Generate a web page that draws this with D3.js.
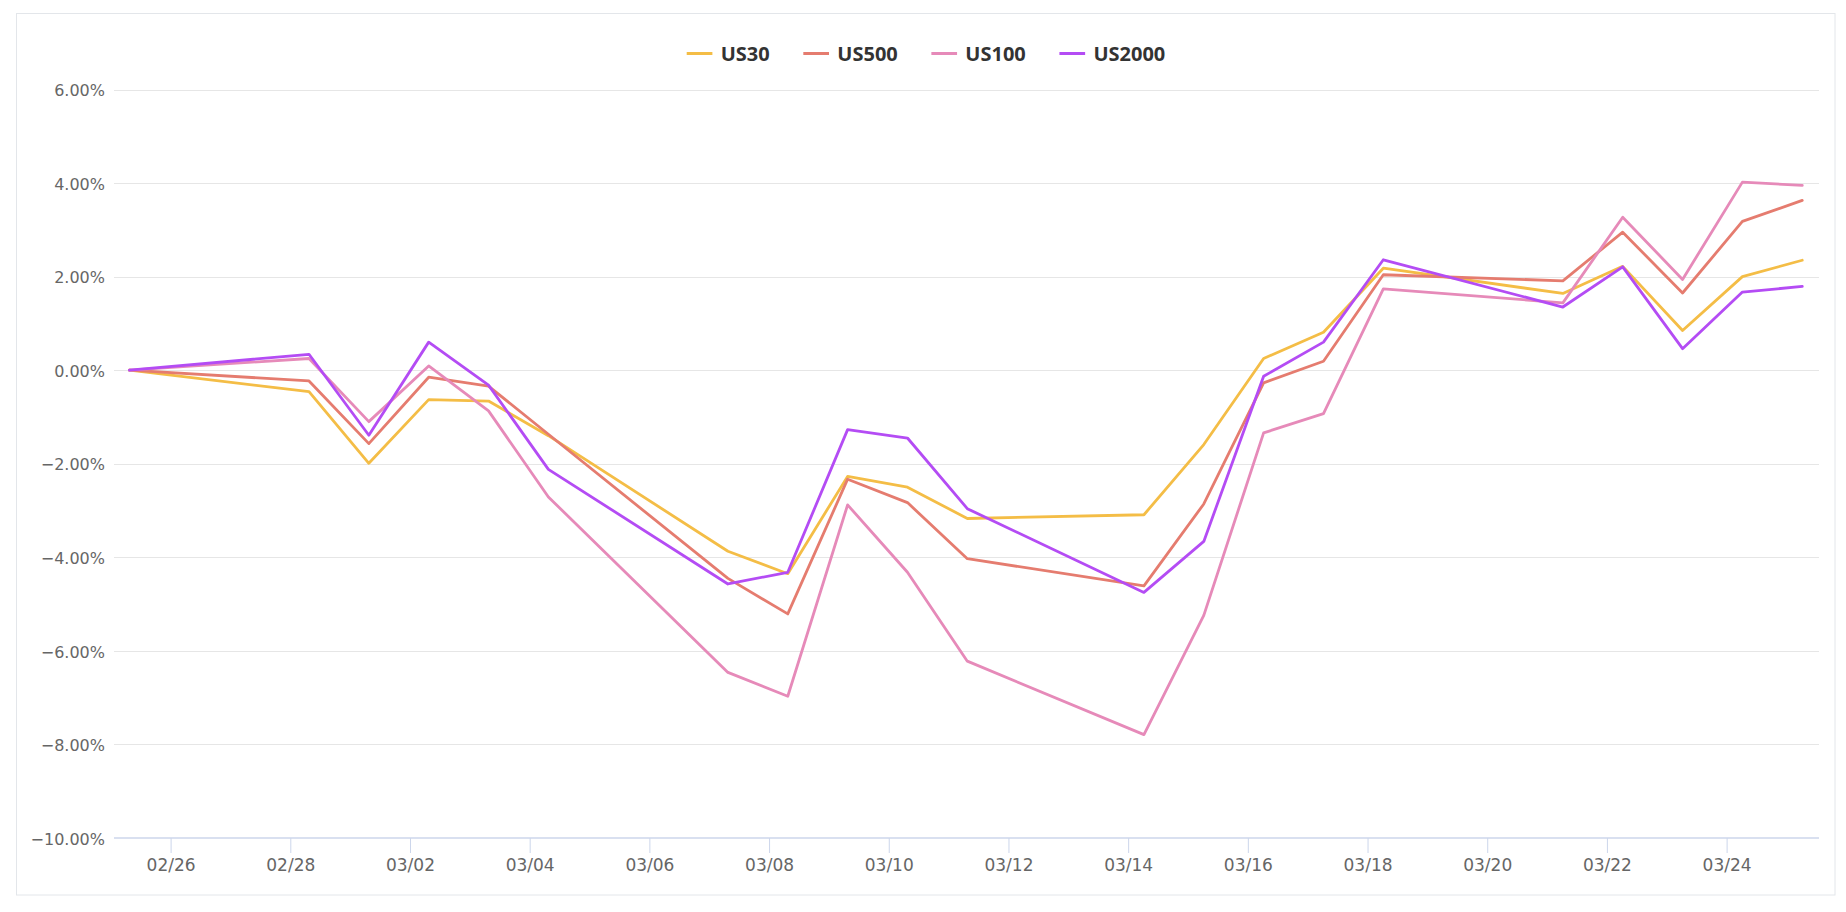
<!DOCTYPE html>
<html><head><meta charset="utf-8">
<script src="https://cdn.jsdelivr.net/npm/d3@7"></script>
<style>
body{margin:0;background:#fff;}
svg{display:block;font-family:"DejaVu Sans",Verdana,sans-serif;}
</style>
</head><body><svg id="chart" width="1846" height="912"></svg>
<script>
// ---- data ----
const dates = [
  "2022-02-25T07:30Z","2022-02-28T07:30Z","2022-03-01T07:30Z","2022-03-02T07:30Z","2022-03-03T07:30Z",
  "2022-03-04T07:30Z","2022-03-07T07:30Z","2022-03-08T07:30Z","2022-03-09T07:30Z","2022-03-10T07:30Z",
  "2022-03-11T07:30Z","2022-03-14T06:20Z","2022-03-15T06:20Z","2022-03-16T06:20Z","2022-03-17T06:20Z",
  "2022-03-18T06:20Z","2022-03-21T06:20Z","2022-03-22T06:20Z","2022-03-23T06:20Z","2022-03-24T06:20Z",
  "2022-03-25T06:20Z"
];
const seriesNames = ["US30","US500","US100","US2000"];
const us30   = [0,-0.46,-1.99,-0.63,-0.66,-1.40,-3.87,-4.35,-2.27,-2.50,-3.17,-3.09,-1.59,0.25,0.81,2.18,1.64,2.22,0.85,2.00,2.35];
const us500  = [0,-0.23,-1.57,-0.15,-0.34,-1.37,-4.45,-5.21,-2.33,-2.83,-4.03,-4.61,-2.86,-0.27,0.19,2.04,1.91,2.95,1.65,3.18,3.63];
const us100  = [0,0.25,-1.10,0.09,-0.87,-2.71,-6.46,-6.97,-2.88,-4.32,-6.22,-7.79,-5.24,-1.34,-0.93,1.74,1.44,3.27,1.94,4.02,3.95];
const us2000 = [0,0.34,-1.39,0.60,-0.32,-2.12,-4.57,-4.32,-1.27,-1.45,-2.96,-4.75,-3.66,-0.13,0.60,2.36,1.35,2.21,0.46,1.67,1.79];
const seriesColors = ["#f4bd46","#e57c6f","#e68ab9","#b44cf4"];
const yTicks = [-10,-8,-6,-4,-2,0,2,4,6];
const xTickDates = ["2022-02-26","2022-02-28","2022-03-02","2022-03-04","2022-03-06","2022-03-08","2022-03-10",
  "2022-03-12","2022-03-14","2022-03-16","2022-03-18","2022-03-20","2022-03-22","2022-03-24"];
const xDomain = ["2022-02-25T01:18Z","2022-03-25T13:03Z"];

// ---- layout ----
const svg = d3.select("#chart");
const plot = {left:114, right:1819, top:89.5, bottom:838};

svg.append("rect").attr("x",16.5).attr("y",13.5).attr("width",1818.5).attr("height",881.5)
  .attr("fill","#fff").attr("stroke","#e3e6ea").attr("stroke-width",1);

const x = d3.scaleUtc().domain(xDomain.map(d=>new Date(d))).range([plot.left, plot.right]);
const y = d3.scaleLinear().domain([-10,6]).range([plot.bottom, plot.top]);

// grid
svg.append("g").selectAll("line").data(yTicks.filter(t=>t>-10)).join("line")
  .attr("x1",plot.left).attr("x2",plot.right)
  .attr("y1",d=>Math.round(y(d))+0.5).attr("y2",d=>Math.round(y(d))+0.5)
  .attr("stroke","#e6e6e6").attr("stroke-width",1);

// y axis labels
const yAxis = d3.axisLeft(y).tickValues(yTicks).tickSize(0).tickPadding(0)
  .tickFormat(d => d3.format(".2f")(d) + "%");
const gy = svg.append("g").attr("transform",`translate(105,1)`).call(yAxis);
gy.select(".domain").remove();
gy.selectAll("text").attr("fill","#666").attr("font-size","16px")
  .attr("font-family",'"DejaVu Sans",Verdana,sans-serif');

// x axis
const xAxis = d3.axisBottom(x).tickValues(xTickDates.map(d=>new Date(d+"T00:00Z")))
  .tickSize(15).tickPadding(6).tickFormat(d3.utcFormat("%m/%d"));
const gx = svg.append("g").attr("transform",`translate(0,${plot.bottom})`).call(xAxis);
gx.select(".domain").attr("stroke","#ccd6eb").attr("stroke-width",1.5)
  .attr("d",`M${plot.left},0H${plot.right}`);
gx.selectAll(".tick line").attr("stroke","#ccd6eb").attr("stroke-width",1);
gx.selectAll("text").attr("fill","#666").attr("font-size","17px")
  .attr("font-family",'"DejaVu Sans",Verdana,sans-serif');

// lines
const allSeries = [us30, us500, us100, us2000];
const parsed = dates.map(d=>new Date(d));
const line = d3.line().x((d,i)=>x(parsed[i])).y(d=>y(d));
svg.append("g").selectAll("path").data(allSeries).join("path")
  .attr("d",d=>line(d)).attr("fill","none")
  .attr("stroke",(d,i)=>seriesColors[i]).attr("stroke-width",2.8)
  .attr("stroke-linejoin","round").attr("stroke-linecap","round");

// legend
const lg = svg.append("g");
const items = lg.selectAll("g").data(seriesNames).join("g");
items.append("line").attr("x1",0).attr("x2",25.7).attr("y1",53.5).attr("y2",53.5)
  .attr("stroke",(d,i)=>seriesColors[i]).attr("stroke-width",3);
items.append("text").attr("x",34).attr("y",60.5).text(d=>d)
  .attr("font-family",'"Open Sans","DejaVu Sans",sans-serif')
  .attr("font-size","20px").attr("font-weight","bold").attr("fill","#333");
const widths = [];
items.each(function(){ widths.push(34 + this.querySelector("text").getComputedTextLength()); });
const gap = 33.6;
const total = d3.sum(widths) + gap*(widths.length-1);
let cx = 926 - total/2;
items.attr("transform",(d,i)=>{ const t=`translate(${cx},0)`; cx += widths[i]+gap; return t; });
</script>
</body></html>
